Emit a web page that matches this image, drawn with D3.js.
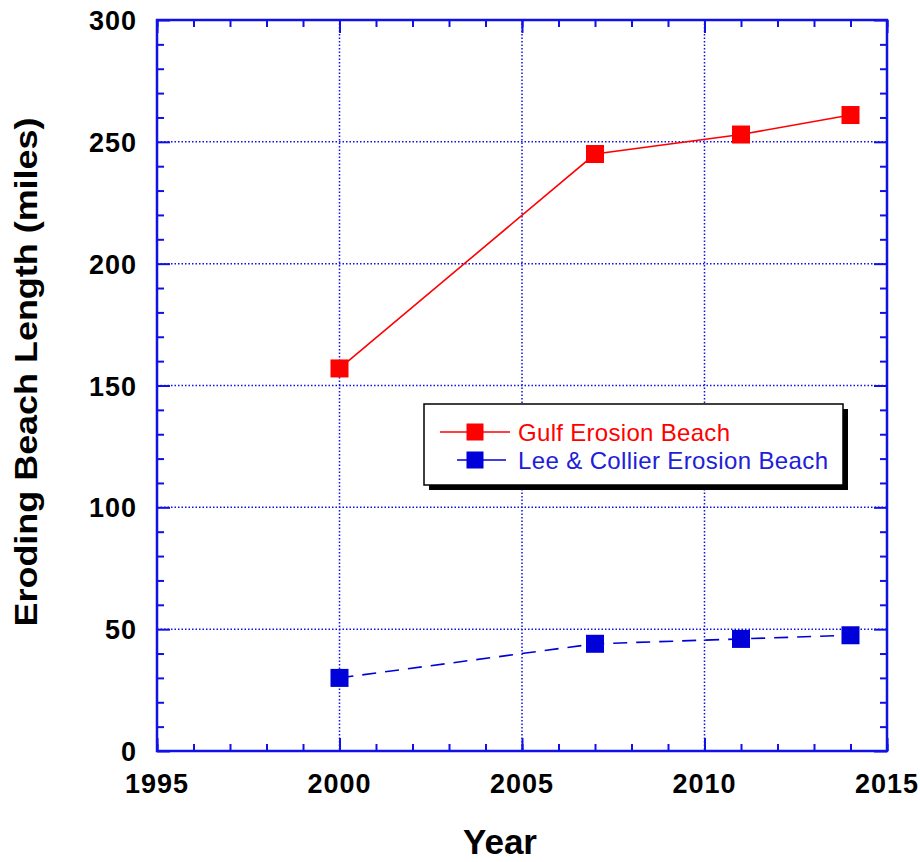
<!DOCTYPE html>
<html><head><meta charset="utf-8">
<script src="https://cdn.jsdelivr.net/npm/d3@7"></script>
<style>body{margin:0;background:#fff}</style>
</head><body>
<svg id="c" width="920" height="862"></svg>
<script>
const years = [2000, 2007, 2011, 2014];
const gulfValues = [157, 245, 253, 261];
const leeCollierValues = [30, 44, 46, 47.5];
const seriesNames = ["Gulf Erosion Beach", "Lee & Collier Erosion Beach"];
const xTicks = [1995, 2000, 2005, 2010, 2015];
const yTicks = [0, 50, 100, 150, 200, 250, 300];

const svg = d3.select("#c");
const L = 157, R = 887, T = 20, B = 751;
const x = d3.scaleLinear().domain([1995, 2015]).range([L, R]);
const y = d3.scaleLinear().domain([0, 300]).range([B, T]);
const axisCol = "#1010e8";
const FONT = "Liberation Sans, Arial, sans-serif";

// gridlines
const grid = svg.append("g").attr("stroke", axisCol).attr("stroke-width", 1.5).attr("stroke-dasharray", "1.5,2");
grid.selectAll(".gx").data(xTicks.slice(1, -1)).join("line")
  .attr("x1", d => x(d)).attr("x2", d => x(d)).attr("y1", T).attr("y2", B);
grid.selectAll(".gy").data(yTicks.slice(1, -1)).join("line")
  .attr("x1", L).attr("x2", R).attr("y1", d => y(d)).attr("y2", d => y(d));

// axes with inward ticks
function inward(axisFn, scale, ticks, size) {
  return axisFn(scale).tickValues(ticks).tickSize(-size).tickFormat("");
}
const minorX = d3.range(1995, 2016, 1);
const minorY = d3.range(0, 301, 10).filter(v => v % 50);
const axG = svg.append("g");
function styleAxis(g) {
  g.select(".domain").remove();
  g.selectAll(".tick line").attr("stroke", axisCol).attr("stroke-width", 2);
}
axG.append("g").attr("transform", `translate(0,${B})`).call(inward(d3.axisBottom, x, minorX, 7)).call(styleAxis);
axG.append("g").attr("transform", `translate(0,${T})`).call(inward(d3.axisTop, x, minorX, 7)).call(styleAxis);
axG.append("g").attr("transform", `translate(${L},0)`).call(inward(d3.axisLeft, y, minorY, 7)).call(styleAxis);
axG.append("g").attr("transform", `translate(${R},0)`).call(inward(d3.axisRight, y, minorY, 7)).call(styleAxis);
axG.append("g").attr("transform", `translate(${L},0)`).call(inward(d3.axisLeft, y, yTicks, 13)).call(styleAxis);
axG.append("g").attr("transform", `translate(${R},0)`).call(inward(d3.axisRight, y, yTicks, 13)).call(styleAxis);
axG.append("g").attr("transform", `translate(0,${B})`).call(inward(d3.axisBottom, x, xTicks, 13)).call(styleAxis);
axG.append("g").attr("transform", `translate(0,${T})`).call(inward(d3.axisTop, x, xTicks, 13)).call(styleAxis);

// tick labels
const lab = svg.append("g").attr("font-family", FONT).attr("font-weight", "bold").attr("font-size", 27).attr("fill", "#000");
lab.selectAll(".xl").data(xTicks).join("text").attr("x", d => x(d)).attr("y", B + 42).attr("text-anchor", "middle")
  .attr("letter-spacing", 1).text(d => d);
lab.selectAll(".yl").data(yTicks).join("text").attr("x", 137).attr("y", d => y(d) + 10).attr("text-anchor", "end")
  .attr("letter-spacing", 1).text(d => d);

// frame
svg.append("rect").attr("x", L).attr("y", T).attr("width", R - L).attr("height", B - T)
  .attr("fill", "none").attr("stroke", axisCol).attr("stroke-width", 2.5);

// titles
svg.append("text").attr("x", 500).attr("y", 854).attr("text-anchor", "middle")
  .attr("font-family", FONT).attr("font-weight", "bold").attr("font-size", 35).text("Year");
svg.append("text").attr("transform", `translate(37,372) rotate(-90)`).attr("text-anchor", "middle")
  .attr("font-family", FONT).attr("font-weight", "bold").attr("font-size", 31)
  .attr("textLength", 509).attr("lengthAdjust", "spacingAndGlyphs").text("Eroding Beach Length (miles)");

// series
const series = [
  {name: seriesNames[0], vals: gulfValues, color: "#ff0000", dash: null},
  {name: seriesNames[1], vals: leeCollierValues, color: "#0000d8", dash: "14,9"}
];
const line = d3.line().x(d => x(d[0])).y(d => y(d[1]));
const ms = 18;
series.forEach(s => {
  const pts = years.map((yr, i) => [yr, s.vals[i]]);
  svg.append("path").datum(pts).attr("d", line).attr("fill", "none").attr("stroke", s.color)
    .attr("stroke-width", 1.6).attr("stroke-dasharray", s.dash);
  svg.selectAll(null).data(pts).join("rect")
    .attr("x", d => x(d[0]) - ms / 2).attr("y", d => y(d[1]) - ms / 2)
    .attr("width", ms).attr("height", ms).attr("fill", s.color);
});

// legend
const lg = svg.append("g");
const lx = 424, ly = 404, lw = 419, lh = 81;
lg.append("rect").attr("x", lx + 5).attr("y", ly + 5).attr("width", lw).attr("height", lh).attr("fill", "#000");
lg.append("rect").attr("x", lx).attr("y", ly).attr("width", lw).attr("height", lh).attr("fill", "#fff").attr("stroke", "#000").attr("stroke-width", 1.5);
const legendRows = [
  {s: series[0], yy: 432, x1: 440, x2: 510, tc: "#ff0000", tl: 212},
  {s: series[1], yy: 460, x1: 457, x2: 506, tc: "#2020d8", tl: 310}
];
legendRows.forEach(r => {
  lg.append("line").attr("x1", r.x1).attr("x2", r.x2).attr("y1", r.yy).attr("y2", r.yy).attr("stroke", r.s.color).attr("stroke-width", 1.6);
  lg.append("rect").attr("x", 475 - 8.5).attr("y", r.yy - 8.5).attr("width", 17).attr("height", 17).attr("fill", r.s.color);
  lg.append("text").attr("x", 518).attr("y", r.yy + 9).attr("font-family", FONT)
    .attr("font-size", 24).attr("fill", r.tc).attr("textLength", r.tl).attr("lengthAdjust", "spacing").text(r.s.name);
});
</script>
</body></html>
